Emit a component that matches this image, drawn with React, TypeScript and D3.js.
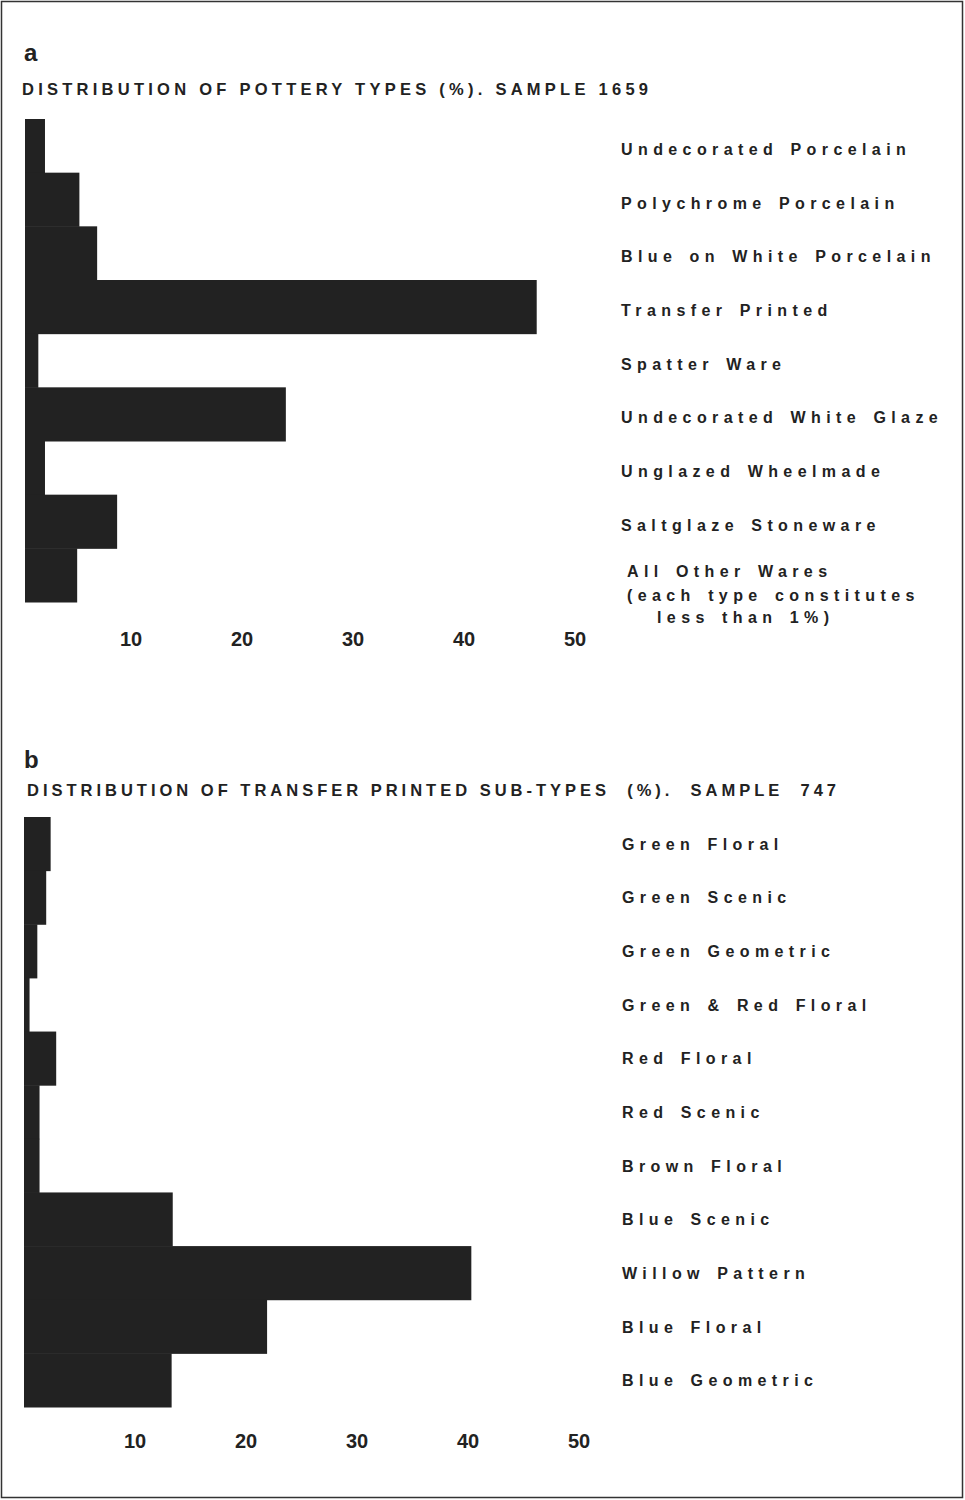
import React from 'react';
import * as d3 from 'd3';

// panel a: pottery types (%), sample 1659
const potteryTypes = [
  'Undecorated Porcelain',
  'Polychrome Porcelain',
  'Blue on White Porcelain',
  'Transfer Printed',
  'Spatter Ware',
  'Undecorated White Glaze',
  'Unglazed Wheelmade',
  'Saltglaze Stoneware',
  'All Other Wares',
];
const potteryValues = [1.8, 4.9, 6.5, 46.1, 1.2, 23.5, 1.8, 8.3, 4.7];

// panel b: transfer printed sub-types (%), sample 747
const subTypes = [
  'Green Floral',
  'Green Scenic',
  'Green Geometric',
  'Green & Red Floral',
  'Red Floral',
  'Red Scenic',
  'Brown Floral',
  'Blue Scenic',
  'Willow Pattern',
  'Blue Floral',
  'Blue Geometric',
];
const subTypeValues = [2.4, 2.0, 1.2, 0.5, 2.9, 1.4, 1.4, 13.4, 40.3, 21.9, 13.3];

const tickValues = [10, 20, 30, 40, 50];
const otherNote = ['(each type constitutes', 'less than 1%)'];

const FONT = '"Liberation Sans", Arial, Helvetica, sans-serif';
const INK = '#222';

const Panel = ({ letter, letterY, title, titleY, titleX, titleLen, names, values, top, bottom, left, labelX, labelDy, tickY, tickDx }) => {
  const x = d3.scaleLinear().domain([0, 50]).range([left, left + 555]);
  const y = d3.scaleBand().domain(names).range([top, bottom]).padding(0);

  return (
    <g>
      <text x={24} y={letterY} fontFamily={FONT} fontWeight="bold" fontSize={24} fill={INK}>
        {letter}
      </text>
      <text
        x={titleX}
        y={titleY}
        fontFamily={FONT}
        fontWeight="bold"
        fontSize={16.5}
        fill={INK}
        textLength={titleLen}
        lengthAdjust="spacing"
        style={{ whiteSpace: 'pre' }}
      >
        {title}
      </text>
      {names.map((n, i) => (
        <rect key={n} x={x(0)} y={y(n)} width={x(values[i]) - x(0)} height={y.bandwidth() + 0.5} fill={INK} />
      ))}
      {names.map((n) => {
        const cy = y(n) + y.bandwidth() / 2 + labelDy;
        const isOther = n === 'All Other Wares';
        return (
          <g key={n} fontFamily={FONT} fontWeight="bold" fontSize={16} fill={INK} style={{ letterSpacing: '5.4px', wordSpacing: '2.5px' }}>
            <text x={labelX + (isOther ? 6 : 0)} y={isOther ? cy - 1 : cy + 6}>
              {n}
            </text>
            {isOther &&
              otherNote.map((t, k) => (
                <text key={t} x={labelX + (k === 0 ? 6 : 36)} y={cy + 23 + k * 22}>
                  {t}
                </text>
              ))}
          </g>
        );
      })}
      {tickValues.map((t) => (
        <text key={t} x={x(t) + tickDx} y={tickY} textAnchor="middle" fontFamily={FONT} fontWeight="bold" fontSize={20} fill={INK}>
          {t}
        </text>
      ))}
    </g>
  );
};

export default function App() {
  return (
    <svg width={965} height={1500} style={{ position: 'absolute', left: 0, top: 0, background: '#fff' }}>
      <rect x={1.5} y={1.5} width={961} height={1496} fill="#fff" stroke="#333" strokeWidth={1.5} />
      <Panel
        letter="a"
        letterY={61}
        title="DISTRIBUTION OF POTTERY TYPES (%). SAMPLE 1659"
        titleX={22}
        titleY={95}
        titleLen={626}
        names={potteryTypes}
        values={potteryValues}
        top={119}
        bottom={602}
        left={25}
        labelX={621}
        labelDy={3}
        tickY={646}
        tickDx={-5}
      />
      <Panel
        letter="b"
        letterY={768}
        title="DISTRIBUTION OF TRANSFER PRINTED SUB-TYPES  (%).  SAMPLE  747"
        titleX={27}
        titleY={796}
        titleLen={809}
        names={subTypes}
        values={subTypeValues}
        top={817}
        bottom={1407}
        left={24}
        labelX={622}
        labelDy={0}
        tickY={1448}
        tickDx={0}
      />
    </svg>
  );
}
